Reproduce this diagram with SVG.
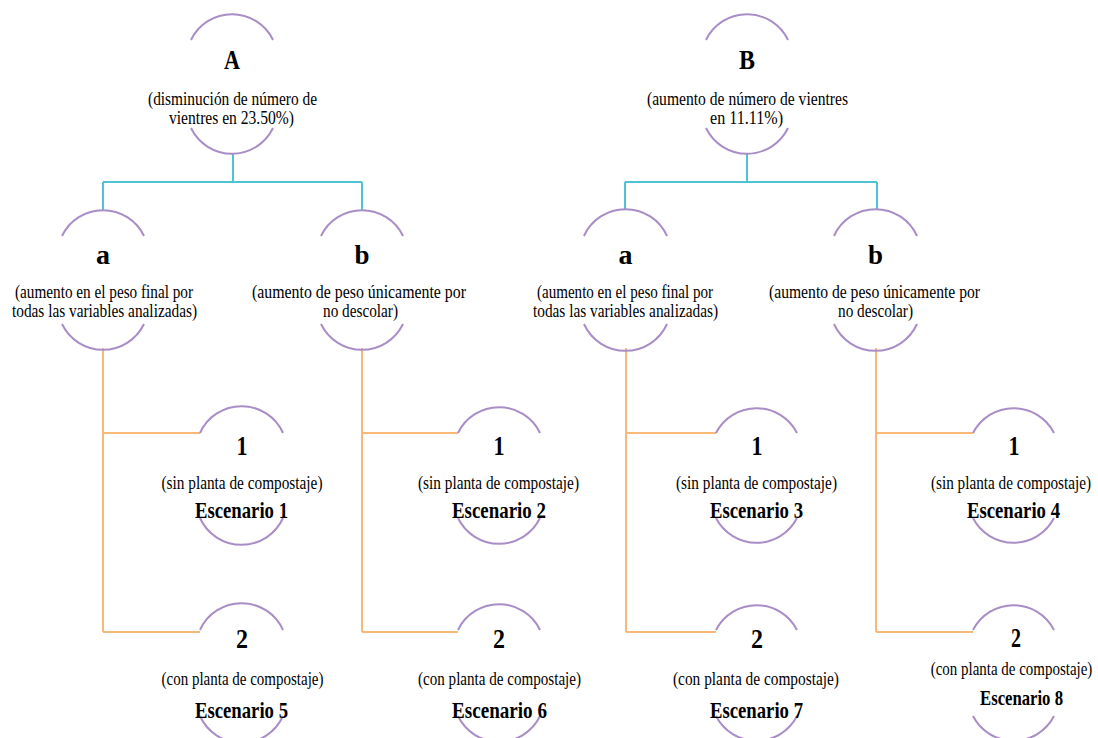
<svg xmlns="http://www.w3.org/2000/svg" width="1098" height="738" viewBox="0 0 1098 738">
<style>
.arc{fill:none;stroke:#A98DC6;stroke-width:2}
.cy{fill:none;stroke:#4DC3D3;stroke-width:2}
.or{fill:none;stroke:#F8B878;stroke-width:2}
text{font-family:"Liberation Serif","DejaVu Serif",serif;fill:#000;text-anchor:middle}
.t{font-size:19px}
.big{font-size:27px;font-weight:bold}
.esc{font-size:24px;font-weight:bold}
</style>
<rect width="1098" height="738" fill="#fff"/>
<g id="connectors">
<path class="cy" d="M233,153 V182 M103,182 H362 M103,182 V210 M362,182 V210"/>
<path class="cy" d="M747,153 V182 M625,182 H877 M625,182 V210 M877,182 V210"/>
<path class="or" d="M103,348 V632 M103,433 H200 M103,632 H200"/>
<path class="or" d="M362,348 V632 M362,433 H458 M362,632 H458"/>
<path class="or" d="M626,348 V632 M626,433 H716 M626,632 H716"/>
<path class="or" d="M876,348 V632 M876,433 H973 M876,632 H973"/>
</g>
<g id="nodeA">
<path class="arc" d="M191,40 A45.5,45.5 0 0 1 273,40 M191,128 A45.5,45.5 0 0 0 273,128"/>
<text class="big" x="232" y="69" textLength="16" lengthAdjust="spacingAndGlyphs">A</text>
<text class="t" x="232.5" y="105" textLength="169" lengthAdjust="spacingAndGlyphs">(disminución de número de</text>
<text class="t" x="231.5" y="124" textLength="125" lengthAdjust="spacingAndGlyphs">vientres en 23.50%)</text>
</g>
<g id="nodeB">
<path class="arc" d="M706,40 A45.5,45.5 0 0 1 788,40 M706,128 A45.5,45.5 0 0 0 788,128"/>
<text class="big" x="747" y="69" textLength="16" lengthAdjust="spacingAndGlyphs">B</text>
<text class="t" x="747.5" y="105" textLength="201" lengthAdjust="spacingAndGlyphs">(aumento de número de vientres</text>
<text class="t" x="746.5" y="124" textLength="73" lengthAdjust="spacingAndGlyphs">en 11.11%)</text>
</g>
<g id="nodeAa">
<path class="arc" d="M62,236 A45.5,45.5 0 0 1 144,236 M62,324 A45.5,45.5 0 0 0 144,324"/>
<text class="big" x="103" y="264" textLength="14" lengthAdjust="spacingAndGlyphs">a</text>
<text class="t" x="104" y="298" textLength="178" lengthAdjust="spacingAndGlyphs">(aumento en el peso final por</text>
<text class="t" x="104.5" y="317" textLength="185" lengthAdjust="spacingAndGlyphs">todas las variables analizadas)</text>
</g>
<g id="nodeAb">
<path class="arc" d="M321,236 A45.5,45.5 0 0 1 403,236 M321,324 A45.5,45.5 0 0 0 403,324"/>
<text class="big" x="362" y="264" textLength="15" lengthAdjust="spacingAndGlyphs">b</text>
<text class="t" x="359" y="298" textLength="214" lengthAdjust="spacingAndGlyphs">(aumento de peso únicamente por</text>
<text class="t" x="360.5" y="317" textLength="75" lengthAdjust="spacingAndGlyphs">no descolar)</text>
</g>
<g id="nodeBa">
<path class="arc" d="M584,236 A45.5,45.5 0 0 1 667,236 M584,324 A45.5,45.5 0 0 0 667,324"/>
<text class="big" x="625.5" y="264" textLength="14" lengthAdjust="spacingAndGlyphs">a</text>
<text class="t" x="625" y="298" textLength="176" lengthAdjust="spacingAndGlyphs">(aumento en el peso final por</text>
<text class="t" x="625.5" y="317" textLength="185" lengthAdjust="spacingAndGlyphs">todas las variables analizadas)</text>
</g>
<g id="nodeBb">
<path class="arc" d="M834,236 A45.5,45.5 0 0 1 917,236 M834,324 A45.5,45.5 0 0 0 917,324"/>
<text class="big" x="875.5" y="264" textLength="15" lengthAdjust="spacingAndGlyphs">b</text>
<text class="t" x="874.5" y="298" textLength="211" lengthAdjust="spacingAndGlyphs">(aumento de peso únicamente por</text>
<text class="t" x="875.5" y="317" textLength="75" lengthAdjust="spacingAndGlyphs">no descolar)</text>
</g>
<g id="esc1">
<path class="arc" d="M200,433 A45.5,45.5 0 0 1 283,433 M200,518 A45.5,45.5 0 0 0 283,518"/>
<text class="big" x="242" y="455" textLength="11" lengthAdjust="spacingAndGlyphs">1</text>
<text class="t" x="242" y="489" textLength="161" lengthAdjust="spacingAndGlyphs">(sin planta de compostaje)</text>
<text class="esc" x="241.5" y="518" textLength="93" lengthAdjust="spacingAndGlyphs">Escenario 1</text>
</g>
<g id="esc2">
<path class="arc" d="M458,433 A45.5,45.5 0 0 1 540,433 M458,518 A45.5,45.5 0 0 0 540,518"/>
<text class="big" x="499" y="455" textLength="11" lengthAdjust="spacingAndGlyphs">1</text>
<text class="t" x="498.5" y="489" textLength="161" lengthAdjust="spacingAndGlyphs">(sin planta de compostaje)</text>
<text class="esc" x="499" y="518" textLength="94" lengthAdjust="spacingAndGlyphs">Escenario 2</text>
</g>
<g id="esc3">
<path class="arc" d="M716,433 A45.5,45.5 0 0 1 797,433 M716,518 A45.5,45.5 0 0 0 797,518"/>
<text class="big" x="757" y="455" textLength="11" lengthAdjust="spacingAndGlyphs">1</text>
<text class="t" x="756.5" y="489" textLength="161" lengthAdjust="spacingAndGlyphs">(sin planta de compostaje)</text>
<text class="esc" x="756.5" y="518" textLength="93" lengthAdjust="spacingAndGlyphs">Escenario 3</text>
</g>
<g id="esc4">
<path class="arc" d="M973,433 A45.5,45.5 0 0 1 1054,433 M973,518 A45.5,45.5 0 0 0 1054,518"/>
<text class="big" x="1014" y="455" textLength="11" lengthAdjust="spacingAndGlyphs">1</text>
<text class="t" transform="translate(1011,489) scale(0.8,1)" x="0" y="0" textLength="200" lengthAdjust="spacingAndGlyphs">(sin planta de compostaje)</text>
<text class="esc" x="1013.5" y="518" textLength="93" lengthAdjust="spacingAndGlyphs">Escenario 4</text>
</g>
<g id="esc5">
<path class="arc" d="M200,630 A45.5,45.5 0 0 1 283,630 M200,716 A45.5,45.5 0 0 0 283,716"/>
<text class="big" x="242" y="648" textLength="12" lengthAdjust="spacingAndGlyphs">2</text>
<text class="t" x="242.5" y="685" textLength="162" lengthAdjust="spacingAndGlyphs">(con planta de compostaje)</text>
<text class="esc" x="241.5" y="718" textLength="93" lengthAdjust="spacingAndGlyphs">Escenario 5</text>
</g>
<g id="esc6">
<path class="arc" d="M458,630 A45.5,45.5 0 0 1 540,630 M458,716 A45.5,45.5 0 0 0 540,716"/>
<text class="big" x="499" y="648" textLength="12" lengthAdjust="spacingAndGlyphs">2</text>
<text class="t" x="499.5" y="685" textLength="163" lengthAdjust="spacingAndGlyphs">(con planta de compostaje)</text>
<text class="esc" x="499.5" y="718" textLength="95" lengthAdjust="spacingAndGlyphs">Escenario 6</text>
</g>
<g id="esc7">
<path class="arc" d="M716,630 A45.5,45.5 0 0 1 797,630 M716,716 A45.5,45.5 0 0 0 797,716"/>
<text class="big" x="757" y="648" textLength="12" lengthAdjust="spacingAndGlyphs">2</text>
<text class="t" x="756" y="685" textLength="166" lengthAdjust="spacingAndGlyphs">(con planta de compostaje)</text>
<text class="esc" x="756.5" y="718" textLength="93" lengthAdjust="spacingAndGlyphs">Escenario 7</text>
</g>
<g id="esc8">
<path class="arc" d="M973,630 A45.5,45.5 0 0 1 1054,630 M973,716 A45.5,45.5 0 0 0 1054,716"/>
<text class="big" x="1016" y="647" font-size="24" textLength="10" lengthAdjust="spacingAndGlyphs">2</text>
<text class="t" transform="translate(1011.5,675) scale(0.8,1)" x="0" y="0" textLength="202" lengthAdjust="spacingAndGlyphs">(con planta de compostaje)</text>
<text class="esc" x="1021.5" y="705" textLength="83" lengthAdjust="spacingAndGlyphs" style="font-size:22px">Escenario 8</text>
</g>
</svg>
